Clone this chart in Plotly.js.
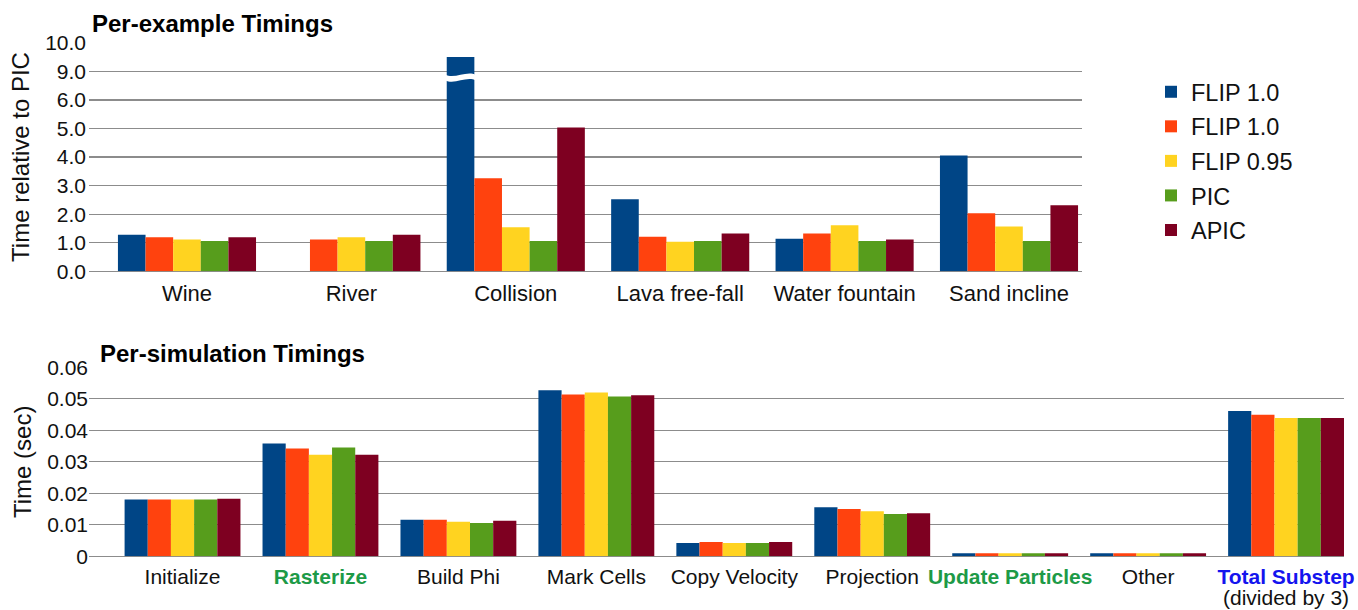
<!DOCTYPE html>
<html><head><meta charset="utf-8">
<script src="https://cdn.plot.ly/plotly-3.0.1.min.js"></script>
<style>html,body{margin:0;padding:0;background:#fff}</style>
</head><body><div id="chart" style="width:1358px;height:610px"></div>
<script>
// ---------- data ----------
const seriesNames  = ['FLIP 1.0', 'FLIP 1.0', 'FLIP 0.95', 'PIC', 'APIC'];
const seriesColors = ['#004586', '#ff420e', '#ffd320', '#579d1c', '#7e0021'];

const exampleCategories = ['Wine', 'River', 'Collision', 'Lava free-fall', 'Water fountain', 'Sand incline'];
const exFlip10a = [1.28, null, 9.5, 2.52, 1.14, 4.05];
const exFlip10b = [1.19, 1.11, 3.26, 1.21, 1.32, 2.03];
const exFlip095 = [1.11, 1.19, 1.54, 1.03, 1.61, 1.57];
const exPIC     = [1.06, 1.06, 1.06, 1.06, 1.06, 1.06];
const exAPIC    = [1.19, 1.28, 5.03, 1.32, 1.11, 2.31];
const topTickValues = [0, 1, 2, 3, 4, 5, 6, 9, 10];
const topTickLabels = ['0.0', '1.0', '2.0', '3.0', '4.0', '5.0', '6.0', '9.0', '10.0'];

const stepCategories = ['Initialize', 'Rasterize', 'Build Phi', 'Mark Cells', 'Copy Velocity',
                        'Projection', 'Update Particles', 'Other', 'Total Substep'];
const stepTickLabels = ['Initialize',
  '<b><span style="color:#1d9a47">Rasterize</span></b>',
  'Build Phi', 'Mark Cells', 'Copy Velocity', 'Projection',
  '<b><span style="color:#1d9a47">Update Particles</span></b>',
  'Other',
  '<b><span style="color:#1414ee">Total Substep</span></b>'];
const totalNote = '(divided by 3)';
const stFlip10a = [0.0180, 0.0358, 0.0116, 0.0527, 0.0042, 0.0156, 0.0010, 0.0010, 0.0461];
const stFlip10b = [0.0180, 0.0342, 0.0116, 0.0514, 0.0045, 0.0150, 0.0010, 0.0010, 0.0449];
const stFlip095 = [0.0180, 0.0322, 0.0110, 0.0520, 0.0042, 0.0143, 0.0010, 0.0010, 0.0439];
const stPIC     = [0.0180, 0.0345, 0.0106, 0.0507, 0.0042, 0.0134, 0.0010, 0.0010, 0.0439];
const stAPIC    = [0.0183, 0.0322, 0.0113, 0.0511, 0.0045, 0.0137, 0.0010, 0.0010, 0.0439];
const stepTickValues = [0, 0.01, 0.02, 0.03, 0.04, 0.05, 0.06];
const stepTickLabelsY = ['0', '0.01', '0.02', '0.03', '0.04', '0.05', '0.06'];

// ---------- broken-axis mapping for the top chart (6 -> 9 gap) ----------
function toDisp(v) {
  if (v === null || v === undefined) return null;
  if (v <= 6) return v;
  if (v >= 9) return v - 2;
  return 6 + (v - 6) / 3;
}

const FONT = 'Liberation Sans, Arial, Helvetica, sans-serif';
const W = 1358, H = 610;
const BARGAP = 0.16;

const exSeries = [exFlip10a, exFlip10b, exFlip095, exPIC, exAPIC];
const stSeries = [stFlip10a, stFlip10b, stFlip095, stPIC, stAPIC];

const traces = [];
exSeries.forEach((vals, i) => {
  traces.push({
    type: 'bar', name: seriesNames[i], x: exampleCategories,
    y: vals.map(toDisp), customdata: vals,
    hovertemplate: '%{x}: %{customdata}<extra>' + seriesNames[i] + '</extra>',
    marker: {color: seriesColors[i], line: {width: 0}},
    xaxis: 'x', yaxis: 'y', legendgroup: 'g' + i, showlegend: true
  });
});
stSeries.forEach((vals, i) => {
  traces.push({
    type: 'bar', name: seriesNames[i], x: stepCategories, y: vals,
    marker: {color: seriesColors[i], line: {width: 0}},
    xaxis: 'x2', yaxis: 'y2', legendgroup: 'g' + i, showlegend: false
  });
});

// break marker on the clipped Collision bar
const nSeries = exSeries.length;
const bw = (1 - BARGAP) / nSeries;
const cIdx = exampleCategories.indexOf('Collision');
const cx = cIdx + (0 - (nSeries - 1) / 2) * bw;
const xl = cx - bw / 2 - 0.01, xr = cx + bw / 2 + 0.01, w = xr - xl;
const a = 6.88, t = 0.2, d = 0.16;
const breakPath = `M ${xl},${a} C ${xl + w/3},${a - d} ${xl + 2*w/3},${a + d} ${xr},${a} ` +
                  `L ${xr},${a - t} C ${xl + 2*w/3},${a - t + d} ${xl + w/3},${a - t - d} ${xl},${a - t} Z`;

const gridCol = '#8c8c8c';
const layout = {
  width: W, height: H,
  margin: {l: 0, r: 0, t: 0, b: 0},
  paper_bgcolor: '#fff', plot_bgcolor: '#fff',
  font: {family: FONT, size: 21, color: '#111'},
  barmode: 'group', bargap: BARGAP, bargroupgap: 0,
  showlegend: true,
  legend: {x: 1151 / W, y: 1 - 70 / H, xanchor: 'left', yanchor: 'top',
           font: {family: FONT, size: 23.5, color: '#111'},
           traceorder: 'grouped', tracegroupgap: 1, bgcolor: 'rgba(0,0,0,0)'},
  xaxis: {domain: [89 / W, 1082 / W], anchor: 'y', type: 'category',
          range: [-0.596, 5.444], showgrid: false, showline: false, ticks: '',
          ticklabelstandoff: 7,
          tickfont: {size: 22, color: '#111'}, fixedrange: true},
  yaxis: {domain: [1 - 271.3 / H, 1 - 42.7 / H], anchor: 'x', range: [0, 8],
          tickvals: topTickValues.map(toDisp), ticktext: topTickLabels,
          showgrid: true, gridcolor: gridCol, gridwidth: 1.3,
          zeroline: true, zerolinecolor: gridCol, zerolinewidth: 1.3,
          showline: false, ticks: '', tickfont: {size: 21, color: '#111'},
          ticklabelstandoff: 2,
          title: {text: 'Time relative to PIC', font: {size: 24, color: '#111'}, standoff: 8},
          fixedrange: true},
  xaxis2: {domain: [89 / W, 1344 / W], anchor: 'y2', type: 'category',
           range: [-0.678, 8.42], showgrid: false, showline: false, ticks: '',
           tickvals: stepCategories, ticktext: stepTickLabels,
           ticklabelstandoff: 6,
           tickfont: {size: 21, color: '#111'}, fixedrange: true},
  yaxis2: {domain: [1 - 556.3 / H, 1 - 367.3 / H], anchor: 'x2', range: [0, 0.06],
           tickvals: stepTickValues, ticktext: stepTickLabelsY,
           showgrid: true, gridcolor: gridCol, gridwidth: 1.3,
           zeroline: true, zerolinecolor: gridCol, zerolinewidth: 1.3,
           showline: false, ticks: '', tickfont: {size: 21, color: '#111'},
           title: {text: 'Time (sec)', font: {size: 24, color: '#111'}, standoff: 8},
           fixedrange: true},
  shapes: [{type: 'path', xref: 'x', yref: 'y', path: breakPath,
            fillcolor: '#ffffff', line: {width: 0}, layer: 'above'}],
  annotations: [
    {text: '<b>Per-example Timings</b>', xref: 'paper', yref: 'paper',
     x: 90 / W, y: 1 - 24 / H, xanchor: 'left', yanchor: 'middle', showarrow: false,
     font: {family: FONT, size: 24, color: '#000'}},
    {text: '<b>Per-simulation Timings</b>', xref: 'paper', yref: 'paper',
     x: 98 / W, y: 1 - 353 / H, xanchor: 'left', yanchor: 'middle', showarrow: false,
     font: {family: FONT, size: 24, color: '#000'}},
    {text: totalNote, xref: 'x2', yref: 'paper',
     x: stepCategories.length - 1, y: 1 - 597 / H, xanchor: 'center', yanchor: 'middle',
     showarrow: false, font: {family: FONT, size: 21, color: '#111'}}
  ]
};

Plotly.newPlot('chart', traces, layout, {displayModeBar: false, staticPlot: true});
</script>
</body></html>
